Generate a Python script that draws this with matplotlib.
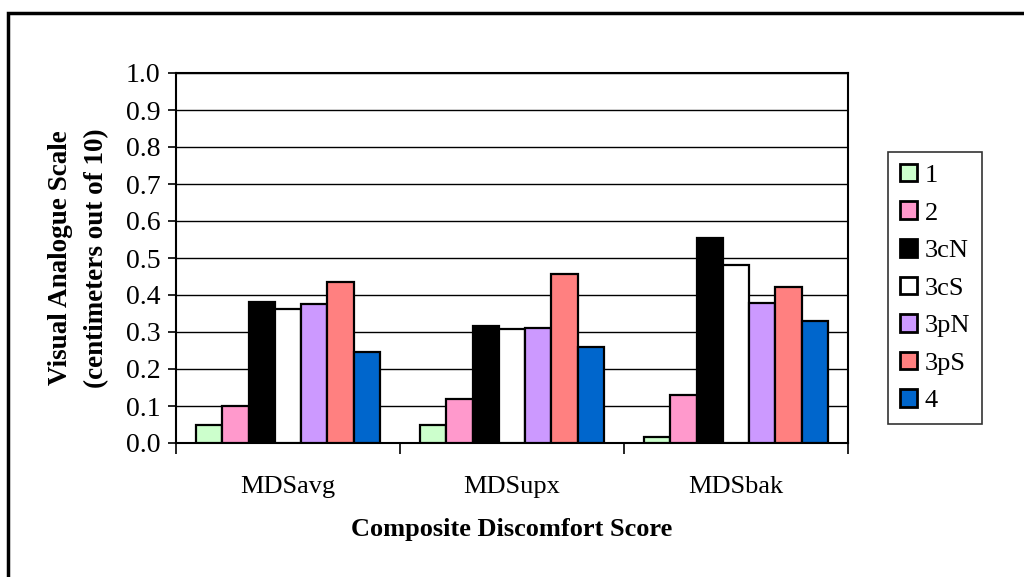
import numpy as np
import matplotlib
matplotlib.use("Agg")
import matplotlib.pyplot as plt
from matplotlib.patches import Rectangle

## data
groups = ["MDSavg", "MDSupx", "MDSbak"]
series = ["1", "2", "3cN", "3cS", "3pN", "3pS", "4"]
v_1 = [0.050, 0.048, 0.016]
v_2 = [0.101, 0.120, 0.130]
v_3cN = [0.380, 0.315, 0.554]
v_3cS = [0.361, 0.308, 0.481]
v_3pN = [0.376, 0.310, 0.379]
v_3pS = [0.436, 0.457, 0.422]
v_4 = [0.246, 0.259, 0.330]
values = [v_1, v_2, v_3cN, v_3cS, v_3pN, v_3pS, v_4]
colors = ["#CCFFCC", "#FF99CC", "#000000", "#FFFFFF", "#CC99FF", "#FF8080", "#0066CC"]

plt.rcParams["font.family"] = ["Liberation Serif", "DejaVu Serif"]
fsize = 19

fig = plt.figure(figsize=(10.24, 5.77), dpi=100)
ax = fig.add_axes([176 / 1024, 1 - 443 / 577, 672 / 1024, 370 / 577])

# outer chart frame (runs off the right and bottom of the picture)
fig.patches.append(Rectangle((8 / 1024, -0.1), 1.2, 0.9775 + 0.1, transform=fig.transFigure,
                             fill=False, edgecolor="black", linewidth=2.5, zorder=0))

n = len(series)
bw = 0.82 / n
xc = np.arange(len(groups)) + 0.5
for i, (name, vals, c) in enumerate(zip(series, values, colors)):
    x = xc - 0.41 + bw * (i + 0.5)
    ax.bar(x, vals, width=bw, color=c, edgecolor="black", linewidth=1.6, label=name, zorder=3)

ax.set_xlim(0, 3)
ax.set_ylim(0, 1.0)
ax.set_yticks(np.arange(0, 1.01, 0.1))
ax.set_yticklabels(["%.1f" % v for v in np.arange(0, 1.01, 0.1)], fontsize=20)
ax.yaxis.grid(True, color="black", linewidth=1.0, zorder=0)
ax.set_axisbelow(True)
ax.tick_params(axis="y", direction="out", length=6, width=1.2, pad=5)

ax.set_xticks(xc)
ax.set_xticklabels(groups, fontsize=fsize)
ax.set_xticks([0, 1, 2, 3], minor=True)
ax.tick_params(axis="x", which="major", length=0, pad=24)
ax.tick_params(axis="x", which="minor", direction="out", length=8, width=1.2)

for s in ax.spines.values():
    s.set_linewidth(1.5)
    s.set_color("black")

ax.set_ylabel("Visual Analogue Scale\n(centimeters out of 10)", fontsize=19.5,
              fontweight="bold", labelpad=12, linespacing=1.6)
ax.set_xlabel("Composite Discomfort Score", fontsize=fsize, fontweight="bold", labelpad=14)

leg = fig.legend(loc="upper left", bbox_to_anchor=(888 / 1024, 1 - 152 / 577),
                 fontsize=fsize, frameon=True, fancybox=False, edgecolor="black",
                 handlelength=0.65, handleheight=0.65, handletextpad=0.3,
                 labelspacing=0.55, borderpad=0.45, borderaxespad=0)
leg.get_frame().set_linewidth(1.2)
for h in leg.legend_handles:
    h.set_linewidth(2.0)

fig.savefig("out.png", dpi=100)
